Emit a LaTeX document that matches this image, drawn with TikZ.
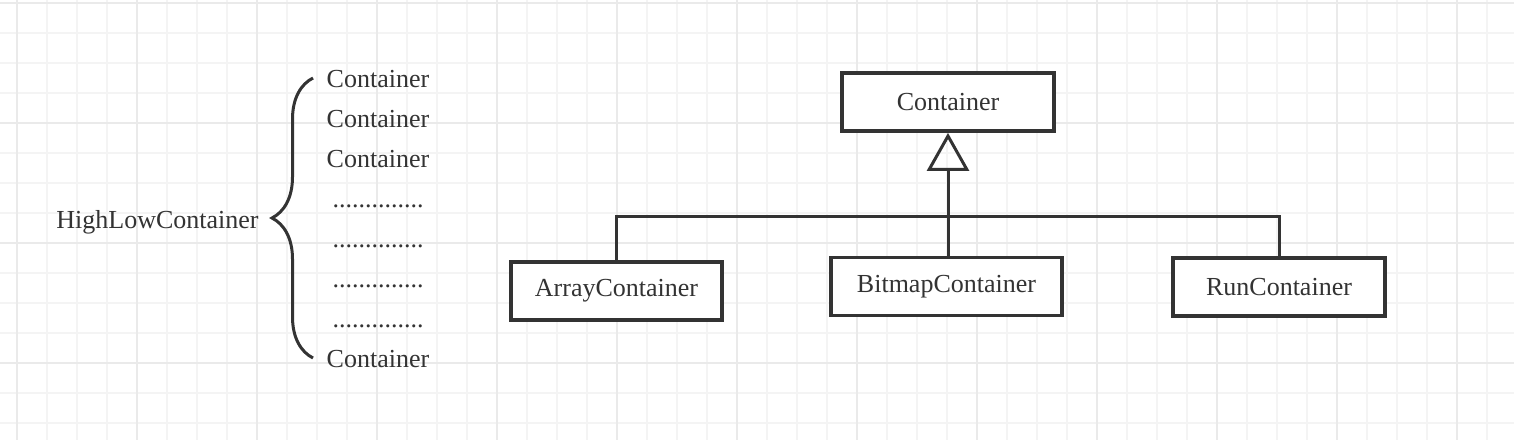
\documentclass[tikz,border=0pt]{standalone}
\usepackage{fontspec}
\setmainfont{Liberation Serif}
\usetikzlibrary{positioning,arrows.meta,decorations.pathreplacing}
\definecolor{gridminor}{HTML}{F4F4F4}
\definecolor{gridmajor}{HTML}{EAEAEA}
\definecolor{umlgray}{HTML}{333333}

\begin{document}
\begin{tikzpicture}[x=0.5pt, y=-0.5pt, node distance=20pt, font=\fontsize{13}{15}\selectfont, text=umlgray]
\tikzstyle{umlclass}=[draw=umlgray, line width=1.9pt, fill=white, minimum height=29pt, inner sep=0pt]
\tikzstyle{listitem}=[inner sep=0pt, text height=9pt, text depth=3pt]
\tikzstyle{umlline}=[draw=umlgray, line width=1.5pt]
\useasboundingbox (0,0) rectangle (1514,440);

% grid paper
\fill[white] (0,0) rectangle (1514,440);
\foreach \x in {17,47,...,1514} \draw[gridminor, line width=0.6pt] (\x,0) -- (\x,440);
\foreach \y in {3,33,...,440} \draw[gridminor, line width=0.6pt] (0,\y) -- (1514,\y);
\foreach \x in {17,137,...,1514} \draw[gridmajor, line width=0.8pt] (\x,0) -- (\x,440);
\foreach \y in {3,123,...,440} \draw[gridmajor, line width=0.8pt] (0,\y) -- (1514,\y);

% left: the high/low container array
\node[listitem] (highlow) at (157.5,222) {HighLowContainer};
\node[listitem] (c1) at (378,81) {Container};
\node[listitem] (c2) [below of=c1] {Container};
\node[listitem] (c3) [below of=c2] {Container};
\node[listitem] (d1) [below of=c3] {..............};
\node[listitem] (d2) [below of=d1] {..............};
\node[listitem] (d3) [below of=d2] {..............};
\node[listitem] (d4) [below of=d3] {..............};
\node[listitem] (cn) [below of=d4] {Container};

\coordinate (bracebot) at (313,358);
\coordinate (bracetop) at (313,78);
\draw[umlline, decorate, decoration={brace, amplitude=20.5pt, aspect=0.5}] (bracebot) -- (bracetop);

% right: container hierarchy
\node[umlclass, minimum width=106pt] (container) at (948,102) {Container};
\node[umlclass, minimum width=105.5pt] (array) at (616.5,291) {ArrayContainer};
\node[umlclass, minimum width=115.5pt] (bitmap) at (946.5,286.5) {BitmapContainer};
\node[umlclass, minimum width=106pt] (run) at (1279,287) {RunContainer};

\coordinate (bus) at (948,216);
\path[umlline, -{Triangle[open, length=19pt, width=21pt]}] (container.south |- bitmap.north) -- (container.south);
\path[umlline] (array.north) |- (bus) -| (run.north);
\end{tikzpicture}
\end{document}
